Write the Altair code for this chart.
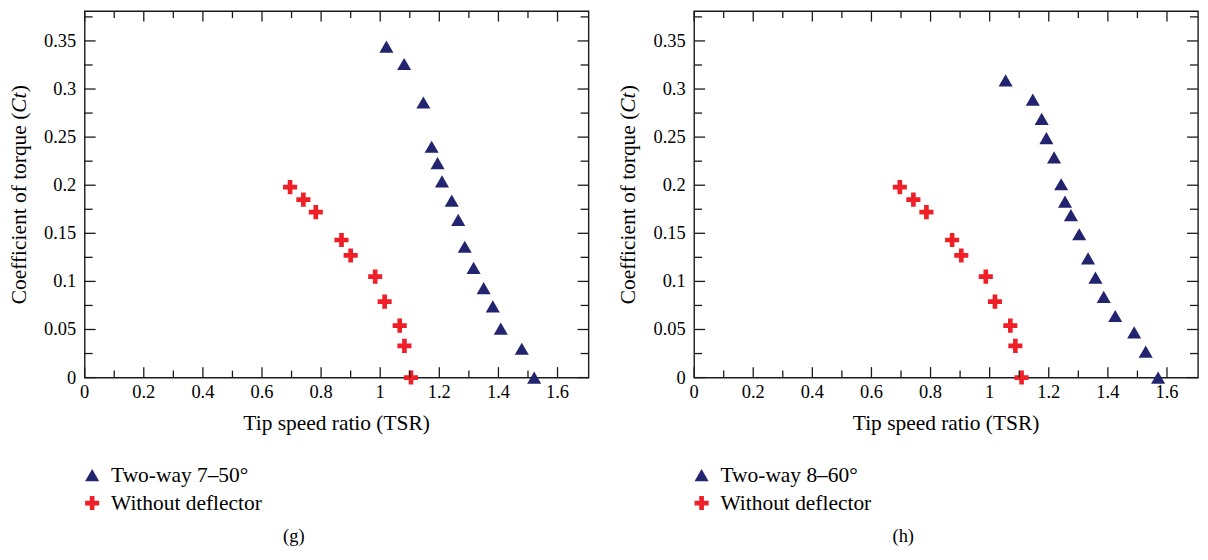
import altair as alt
import pandas as pd

# ---------------- data ----------------
# panel (g)
tsr_two_way_g = [1.021, 1.081, 1.146, 1.174, 1.194, 1.209, 1.242, 1.264, 1.286, 1.316, 1.350, 1.381, 1.408, 1.479, 1.521]
ct_two_way_g = [0.344, 0.326, 0.286, 0.240, 0.223, 0.204, 0.184, 0.164, 0.136, 0.114, 0.093, 0.074, 0.051, 0.030, 0.0]
tsr_without_g = [0.695, 0.740, 0.782, 0.869, 0.900, 0.983, 1.015, 1.066, 1.082, 1.104]
ct_without_g = [0.198, 0.185, 0.172, 0.143, 0.127, 0.105, 0.079, 0.054, 0.033, 0.0]

# panel (h)
tsr_two_way_h = [1.054, 1.146, 1.176, 1.192, 1.218, 1.242, 1.255, 1.275, 1.303, 1.333, 1.358, 1.386, 1.425, 1.489, 1.528, 1.570]
ct_two_way_h = [0.309, 0.289, 0.269, 0.249, 0.229, 0.201, 0.183, 0.169, 0.149, 0.124, 0.104, 0.084, 0.064, 0.047, 0.027, 0.0]
tsr_without_h = [0.696, 0.742, 0.786, 0.873, 0.904, 0.987, 1.018, 1.070, 1.087, 1.108]
ct_without_h = [0.198, 0.185, 0.172, 0.143, 0.127, 0.105, 0.079, 0.054, 0.033, 0.0]

# ticks and tick labels
x_major = [0, 0.2, 0.4, 0.6, 0.8, 1.0, 1.2, 1.4, 1.6]
x_major_labels = ["0", "0.2", "0.4", "0.6", "0.8", "1", "1.2", "1.4", "1.6"]
x_minor = [0.1, 0.3, 0.5, 0.7, 0.9, 1.1, 1.3, 1.5]
y_major = [0, 0.05, 0.1, 0.15, 0.2, 0.25, 0.3, 0.35]
y_major_labels = ["0", "0.05", "0.1", "0.15", "0.2", "0.25", "0.3", "0.35"]
y_minor = [0.025, 0.075, 0.125, 0.175, 0.225, 0.275, 0.325, 0.375]

labels_g = ["Two-way 7\u201350\u00b0", "Without deflector"]
labels_h = ["Two-way 8\u201360\u00b0", "Without deflector"]
x_title = "Tip speed ratio (TSR)"
y_title_parts = ["Coefficient of torque (", "Ct", ")"]

# ---------------- styling ----------------
FONT = "Liberation Serif"
NAVY = "#222470"
RED = "#ee1f26"
INK = "#1a1a1a"
W, H = 506, 368
XMAX, YMAX = 1.705, 0.381
PLUS = "M-0.33,-1H0.33V-0.33H1V0.33H0.33V1H-0.33V0.33H-1V-0.33H-0.33Z"
TS = 21.5  # title / legend font size
LS = 18.5  # tick label font size

xs = alt.Scale(domain=[0, XMAX], nice=False, zero=False)
ys = alt.Scale(domain=[0, YMAX], nice=False, zero=False)


def X(field="tsr"):
    return alt.X(f"{field}:Q", scale=xs, axis=None)


def Y(field="ct"):
    return alt.Y(f"{field}:Q", scale=ys, axis=None)


def tick_layers():
    out = []
    for vals, ln in ((x_major, 10.5), (x_minor, 7)):
        df = pd.DataFrame({"tsr": vals})
        base = alt.Chart(df).mark_rule(color=INK, strokeWidth=1.3)
        out.append(base.encode(x=X(), y=alt.value(H), y2=alt.value(H - ln)))
        out.append(base.encode(x=X(), y=alt.value(0), y2=alt.value(ln)))
    for vals, ln in ((y_major, 11), (y_minor, 8)):
        df = pd.DataFrame({"ct": vals})
        base = alt.Chart(df).mark_rule(color=INK, strokeWidth=1.3)
        out.append(base.encode(y=Y(), x=alt.value(0), x2=alt.value(ln)))
        out.append(base.encode(y=Y(), x=alt.value(W), x2=alt.value(W - ln)))
    # tick labels, positioned through the scales
    xl = pd.DataFrame({"tsr": x_major, "lab": x_major_labels})
    out.append(alt.Chart(xl).mark_text(font=FONT, fontSize=LS, color="black", align="center",
                                       baseline="middle").encode(
        x=X(), y=alt.value(H + 15), text="lab:N"))
    yl = pd.DataFrame({"ct": y_major, "lab": y_major_labels})
    out.append(alt.Chart(yl).mark_text(font=FONT, fontSize=LS, color="black", align="right",
                                       baseline="middle").encode(
        y=Y(), x=alt.value(-8.5), text="lab:N"))
    return out


def text_layer(txt, x, y, size=TS, **kw):
    return alt.Chart(pd.DataFrame({"t": [txt]})).mark_text(
        fontSize=size, font=FONT, color="black", **kw).encode(
        text="t:N", x=alt.value(x), y=alt.value(y))


def panel(tri_x, tri_y, plus_x, plus_y, labels, caption):
    tri = pd.DataFrame({"tsr": tri_x, "ct": tri_y})
    plus = pd.DataFrame({"tsr": plus_x, "ct": plus_y})

    pts_plus = alt.Chart(plus).mark_point(shape=PLUS, filled=True, size=200, color=RED, opacity=1).encode(
        x=X(), y=Y())
    pts_tri = alt.Chart(tri).mark_point(shape="triangle-up", filled=True, size=200, color=NAVY, opacity=1).encode(
        x=X(), y=Y())

    # axis titles (y title has an italic Ct)
    xt = text_layer(x_title, W / 2, 415, align="center", baseline="middle")
    y0 = 102
    t1 = text_layer(y_title_parts[0], -65, y0, angle=270, align="right", baseline="middle")
    t2 = text_layer(y_title_parts[1], -65, y0, angle=270, align="left", baseline="middle", fontStyle="italic")
    t3 = text_layer(y_title_parts[2], -65, y0 - 20.5, angle=270, align="left", baseline="middle")

    # legend below the plot
    leg_tri = alt.Chart(pd.DataFrame({"a": [0]})).mark_point(
        shape="triangle-up", filled=True, size=200, color=NAVY, opacity=1).encode(
        x=alt.value(7.5), y=alt.value(466))
    leg_plus = alt.Chart(pd.DataFrame({"a": [0]})).mark_point(
        shape=PLUS, filled=True, size=200, color=RED, opacity=1).encode(
        x=alt.value(7.5), y=alt.value(494))
    leg_t1 = text_layer(labels[0], 26.5, 467, align="left", baseline="middle")
    leg_t2 = text_layer(labels[1], 26.5, 495, align="left", baseline="middle")
    cap = text_layer(caption, 210, 527, size=18.5, align="center", baseline="middle")

    layers = [pts_plus, pts_tri] + tick_layers() + [xt, t1, t2, t3, leg_tri, leg_plus, leg_t1, leg_t2, cap]
    return alt.layer(*layers).properties(width=W, height=H)


left = panel(tsr_two_way_g, ct_two_way_g, tsr_without_g, ct_without_g, labels_g, "(g)")
right = panel(tsr_two_way_h, ct_two_way_h, tsr_without_h, ct_without_h, labels_h, "(h)")

chart = (
    alt.hconcat(left, right, spacing=27)
    .properties(padding=0)
    .configure(font=FONT)
    .configure_view(stroke=INK, strokeWidth=1.4)
)

chart.save("out.html", embed_options={"renderer": "svg", "actions": False})
